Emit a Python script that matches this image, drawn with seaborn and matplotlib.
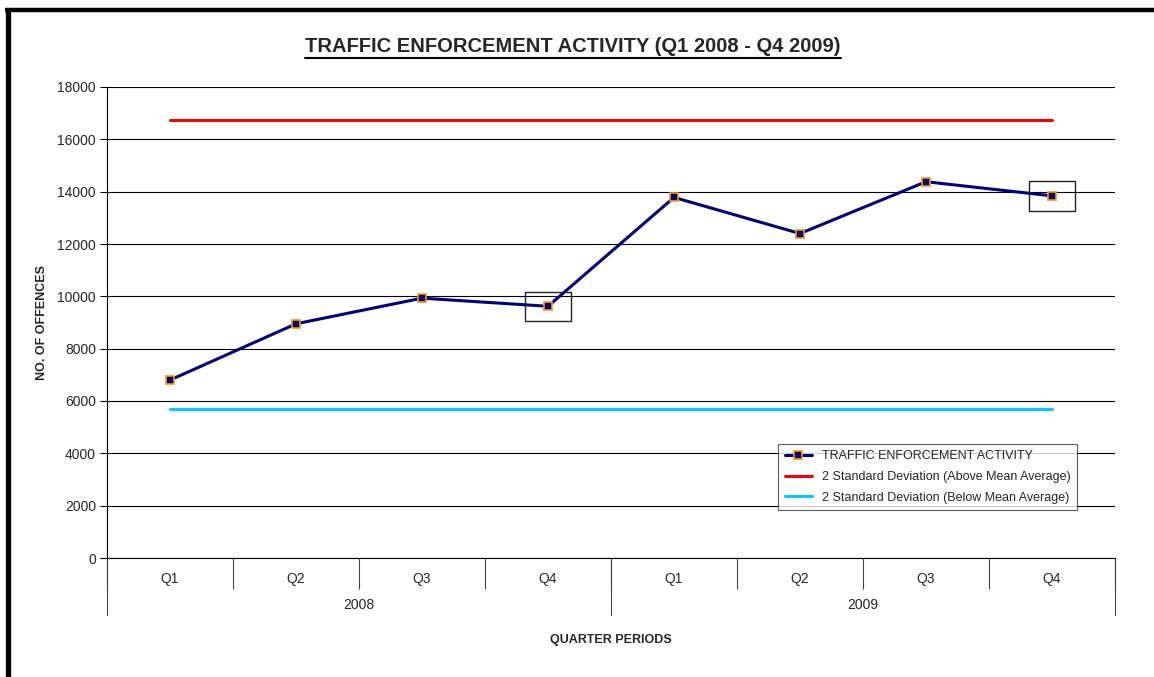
import matplotlib
matplotlib.use('Agg')
import matplotlib.pyplot as plt
from matplotlib.lines import Line2D
from matplotlib.patches import Rectangle
import seaborn as sns
import pandas as pd

quarters = ['Q1', 'Q2', 'Q3', 'Q4', 'Q1', 'Q2', 'Q3', 'Q4']
years = ['2008', '2009']
activity = [6800, 8950, 9930, 9620, 13780, 12400, 14380, 13840]
upper_sd = [16750, 16750, 16750, 16750, 16750, 16750, 16750, 16750]
lower_sd = [5700, 5700, 5700, 5700, 5700, 5700, 5700, 5700]
highlighted = [3, 7]  # quarters boxed in the original

df = pd.DataFrame({'pos': range(len(quarters)), 'activity': activity,
                   'upper': upper_sd, 'lower': lower_sd})

sns.set_style('white')
plt.rcParams['font.family'] = ['Liberation Sans', 'DejaVu Sans']

fig = plt.figure(figsize=(11.54, 6.77), dpi=100)
W, H = 1154, 677
ax = fig.add_axes([107 / W, (H - 558) / H, 1008 / W, 471 / H])

sns.lineplot(data=df, x='pos', y='upper', ax=ax, color='#ff0000', lw=2.2,
             label='2 Standard Deviation (Above Mean Average)')
sns.lineplot(data=df, x='pos', y='lower', ax=ax, color='#00ccff', lw=2.2,
             label='2 Standard Deviation (Below Mean Average)')
sns.lineplot(data=df, x='pos', y='activity', ax=ax, color='#000080', lw=2.2,
             marker='s', markersize=6, markerfacecolor='#000080',
             markeredgecolor='#ff9900', markeredgewidth=1.2,
             label='TRAFFIC ENFORCEMENT ACTIVITY')

# boxes around highlighted points
for i in highlighted:
    ax.add_patch(Rectangle((i - 0.18, activity[i] - 560), 0.36, 1110,
                           fill=False, edgecolor='#222222', lw=1.0, zorder=4))

ax.set_xlim(-0.5, len(quarters) - 0.5)
ax.set_ylim(0, 18000)
ax.set_yticks(range(0, 18001, 2000))
ax.tick_params(axis='y', labelsize=10, length=5, width=0.8, color='black',
               direction='out', left=True, pad=3)
ax.yaxis.grid(True, color='black', lw=0.8)
ax.set_axisbelow(True)

# category axis: dividers as major ticks, labels as minor ticks
ax.set_xticks([i - 0.5 for i in range(len(quarters) + 1)])
ax.set_xticklabels([])
ax.set_xticks(range(len(quarters)), minor=True)
ax.set_xticklabels(quarters, minor=True)
ax.tick_params(axis='x', which='major', length=22, width=0.8, color='#444444',
               direction='out', bottom=True)
ax.tick_params(axis='x', which='minor', length=0, labelsize=10, pad=10)

xt = ax.get_xaxis_transform()
for b in [-0.5, 3.5, 7.5]:
    ax.plot([b, b], [0, -57 / 471], transform=xt, color='#444444', lw=0.8,
            clip_on=False)
for k, yr in enumerate(years):
    ax.text(1.5 + 4 * k, -47 / 471, yr, transform=xt, ha='center',
            va='center', fontsize=10)

for s in ['top', 'right']:
    ax.spines[s].set_visible(False)
ax.spines['left'].set_color('black')
ax.spines['left'].set_linewidth(0.8)
ax.spines['bottom'].set_color('black')
ax.spines['bottom'].set_linewidth(0.8)

ax.set_xlabel('')
ax.set_ylabel('')
fig.text(42 / W, 1 - 322 / H, 'NO. OF OFFENCES', rotation=90, ha='center',
         va='center', fontsize=9, fontweight='bold')
fig.text(611 / W, 1 - 640 / H, 'QUARTER PERIODS', ha='center', va='center',
         fontsize=9, fontweight='bold')

title = fig.text(573 / W, 1 - 47 / H,
                 'TRAFFIC ENFORCEMENT ACTIVITY (Q1 2008 - Q4 2009)',
                 ha='center', va='center', fontsize=14.5, fontweight='bold')
r = fig.canvas.get_renderer()
bb = title.get_window_extent(r)
uy = (bb.y0 - 1) / H
fig.add_artist(Line2D([bb.x0 / W, bb.x1 / W], [uy, uy], color='black', lw=1.5))

# legend in the original order
h, l = ax.get_legend_handles_labels()
order = [2, 0, 1]
leg = ax.legend([h[i] for i in order], [l[i] for i in order],
                loc='lower left', bbox_to_anchor=(0.666, 0.102),
                borderaxespad=0, fontsize=9, frameon=True, fancybox=False,
                edgecolor='#333333', handlelength=2.2, borderpad=0.5,
                labelspacing=0.7)
leg.get_frame().set_linewidth(0.8)

# thick frame on left and top
fig.add_artist(Line2D([7.5 / W, 7.5 / W], [0, 1 - 8 / H], color='black',
                      lw=3.8, solid_capstyle='butt'))
fig.add_artist(Line2D([5 / W, 1], [1 - 10 / H, 1 - 10 / H], color='black',
                      lw=3.2, solid_capstyle='butt'))

fig.savefig('out.png', dpi=100)
